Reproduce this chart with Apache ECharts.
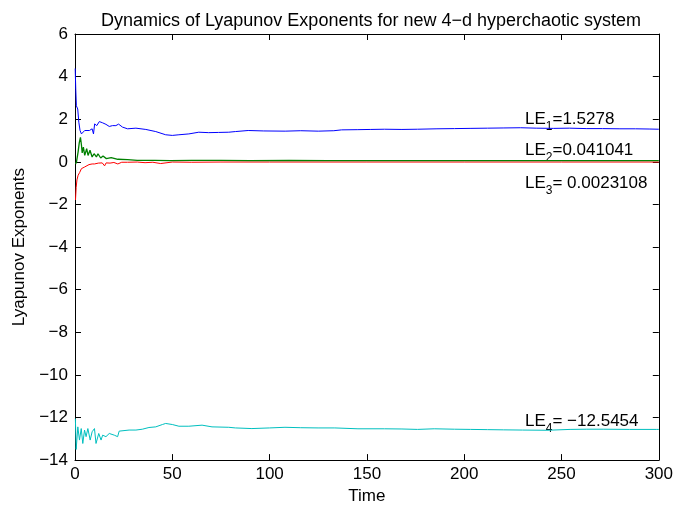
<!DOCTYPE html>
<html>
<head>
<meta charset="utf-8">
<script src="https://cdn.jsdelivr.net/npm/echarts@6/dist/echarts.min.js"></script>
<style>html,body{margin:0;padding:0;background:#fff}#c{width:676px;height:510px}</style>
</head>
<body>
<div id="c"></div>
<script>
// ---- data ----
const le1T = [0.1,0.4,0.7,1.1,1.4,1.96,2.6,3.3,4.3,5.0,6.0,7.4,8.8,9.5,10.1,11.2,12.5,14.2,15.9,17.6,19.3,21,22.4,24.4,27,31.3,36.4,41.5,46.6,50,53.4,58.5,63.6,68.7,73.8,79,82.4,89,97,108,116,125,133,137,145,152,159,168,176,186,195,203,212,220,229,237,246,254,263,271,280,288,295,300];
const le1V = [4.38,3.4,2.63,2.7,2.48,1.86,1.47,1.31,1.27,1.47,1.52,1.47,1.55,1.31,1.78,1.70,1.89,1.83,1.76,1.66,1.70,1.70,1.77,1.63,1.55,1.58,1.52,1.42,1.27,1.24,1.27,1.31,1.39,1.37,1.38,1.39,1.42,1.47,1.45,1.44,1.46,1.44,1.46,1.50,1.51,1.52,1.53,1.52,1.53,1.55,1.56,1.57,1.58,1.59,1.60,1.58,1.57,1.58,1.56,1.56,1.55,1.55,1.54,1.53];

const le2T = [0.3,0.77,1.6,2.2,2.8,3.3,3.7,4.3,5.0,6.0,6.7,7.7,8.8,9.8,11,11.8,13.2,14.4,16.1,18.6,22,27,32,41,49,60,75,90,110,130,150,175,200,230,260,300];
const le2V = [-0.1,0.0,0.47,0.9,1.15,0.8,0.42,0.69,0.30,0.62,0.30,0.54,0.23,0.38,0.23,0.38,0.18,0.27,0.15,0.20,0.12,0.10,0.07,0.07,0.06,0.07,0.065,0.06,0.065,0.06,0.06,0.06,0.06,0.06,0.06,0.06];

const le3T = [0.25,0.6,1.0,1.6,2.4,3.3,4.2,5.0,6.0,7.2,8.8,10,12,14,15.2,16,18,20,22,22.6,24,27,32,36,40,44,45,50,60,75,100,150,200,250,300];
const le3V = [-1.79,-1.2,-0.85,-0.63,-0.50,-0.32,-0.36,-0.24,-0.22,-0.13,-0.10,-0.10,-0.06,-0.05,-0.19,-0.05,-0.06,-0.03,-0.10,-0.19,-0.02,-0.02,-0.01,-0.04,-0.02,-0.08,-0.02,-0.01,-0.02,-0.01,-0.01,-0.01,-0.01,-0.01,-0.01];

const le4T = [0.2,0.6,1.45,2.3,3.2,4.0,4.9,5.7,6.6,7.8,8.8,10,10.8,12.2,13.4,14.2,15.9,17.6,20.2,21.9,22.7,27.8,31.3,34.6,38,41.5,44.9,46.6,50,53.4,58.5,65.3,70.4,79,82.4,90.9,100,107.9,116,124.9,133.5,145.4,159,168,176,184.6,195,203.3,212,220.3,230,242.5,254.4,263,271.4,285,298.7,300];
const le4V = [-12.05,-13.5,-12.44,-13.06,-12.52,-13.22,-12.59,-12.9,-12.52,-13.06,-12.67,-12.52,-13.22,-12.75,-13.06,-12.83,-12.9,-12.75,-12.83,-12.9,-12.64,-12.59,-12.59,-12.55,-12.47,-12.44,-12.33,-12.28,-12.33,-12.41,-12.41,-12.36,-12.44,-12.46,-12.49,-12.52,-12.49,-12.46,-12.48,-12.49,-12.49,-12.53,-12.53,-12.54,-12.56,-12.53,-12.55,-12.56,-12.57,-12.58,-12.59,-12.60,-12.56,-12.55,-12.55,-12.56,-12.56,-12.56];

const xTicks = [0,50,100,150,200,250,300];
const yTicks = [-14,-12,-10,-8,-6,-4,-2,0,2,4,6];
const leLabels = [
  {sub:'1', val:'=1.5278'},
  {sub:'2', val:'=0.041041'},
  {sub:'3', val:'= 0.0023108'},
  {sub:'4', val:'= \u221212.5454'}
];
const titleText = 'Dynamics of Lyapunov Exponents for new 4\u2212d hyperchaotic system';

// ---- chart ----
const FONT = '"Liberation Sans", Arial, Helvetica, sans-serif';
const pair = (t, v) => t.map((x, i) => [x, v[i]]);
const fmtY = v => (v < 0 ? '\u2212' + Math.abs(v) : String(v));

const chart = echarts.init(document.getElementById('c'), null, {renderer: 'canvas'});

const axisCommon = {
  axisLine: {show: true, onZero: false, lineStyle: {color: '#000', width: 1}},
  axisTick: {show: true, inside: true, length: 6, lineStyle: {color: '#000', width: 1}},
  splitLine: {show: false}
};

const lePos = [111, 142, 175, 413];
const graphics = leLabels.map((l, i) => ({
  type: 'text', left: 525, top: lePos[i],
  style: {
    text: '{m|LE}{s|' + l.sub + '}{m|' + l.val + '}',
    rich: {
      m: {fontSize: 17, fontFamily: FONT, fill: '#000', verticalAlign: 'bottom', padding: [0, 0, 5, 0]},
      s: {fontSize: 12, fontFamily: FONT, fill: '#000', verticalAlign: 'bottom'}
    }
  }
}));

chart.setOption({
  animation: false,
  backgroundColor: '#fff',
  title: {
    text: titleText, left: 366, top: 7, textAlign: 'center',
    textStyle: {fontSize: 18, fontWeight: 'normal', color: '#000', fontFamily: FONT}
  },
  grid: {left: 75, right: 14, top: 34, bottom: 46, containLabel: false},
  xAxis: [
    Object.assign({
      type: 'value', min: 0, max: 300, interval: 50, position: 'bottom',
      name: 'Time', nameLocation: 'middle', nameGap: 26,
      nameTextStyle: {fontSize: 17, color: '#000', fontFamily: FONT},
      axisLabel: {fontSize: 17, color: '#000', fontFamily: FONT, margin: 6,
        formatter: v => xTicks.includes(v) ? String(v) : ''}
    }, axisCommon),
    Object.assign({
      type: 'value', min: 0, max: 300, interval: 50, position: 'top',
      axisLabel: {show: false}
    }, axisCommon)
  ],
  yAxis: [
    Object.assign({
      type: 'value', min: -14, max: 6, interval: 2, position: 'left',
      name: 'Lyapunov Exponents', nameLocation: 'middle', nameGap: 45, nameRotate: 90,
      nameTextStyle: {fontSize: 17, color: '#000', fontFamily: FONT},
      axisLabel: {fontSize: 17, color: '#000', fontFamily: FONT, margin: 7,
        formatter: v => yTicks.includes(v) ? fmtY(v) : ''}
    }, axisCommon),
    Object.assign({
      type: 'value', min: -14, max: 6, interval: 2, position: 'right',
      axisLabel: {show: false}
    }, axisCommon)
  ],
  graphic: graphics,
  series: [
    {type: 'line', data: pair(le1T, le1V), showSymbol: false, symbol: 'none', lineStyle: {color: '#0000ff', width: 1}, xAxisIndex: 0, yAxisIndex: 0},
    {type: 'line', data: pair(le3T, le3V), showSymbol: false, symbol: 'none', lineStyle: {color: '#ff0000', width: 1}, xAxisIndex: 0, yAxisIndex: 0},
    {type: 'line', data: pair(le2T, le2V), showSymbol: false, symbol: 'none', lineStyle: {color: '#008000', width: 1.3}, xAxisIndex: 0, yAxisIndex: 0},
    {type: 'line', data: pair(le4T, le4V), showSymbol: false, symbol: 'none', lineStyle: {color: '#00bfbf', width: 1}, xAxisIndex: 0, yAxisIndex: 0}
  ]
});
</script>
</body>
</html>
